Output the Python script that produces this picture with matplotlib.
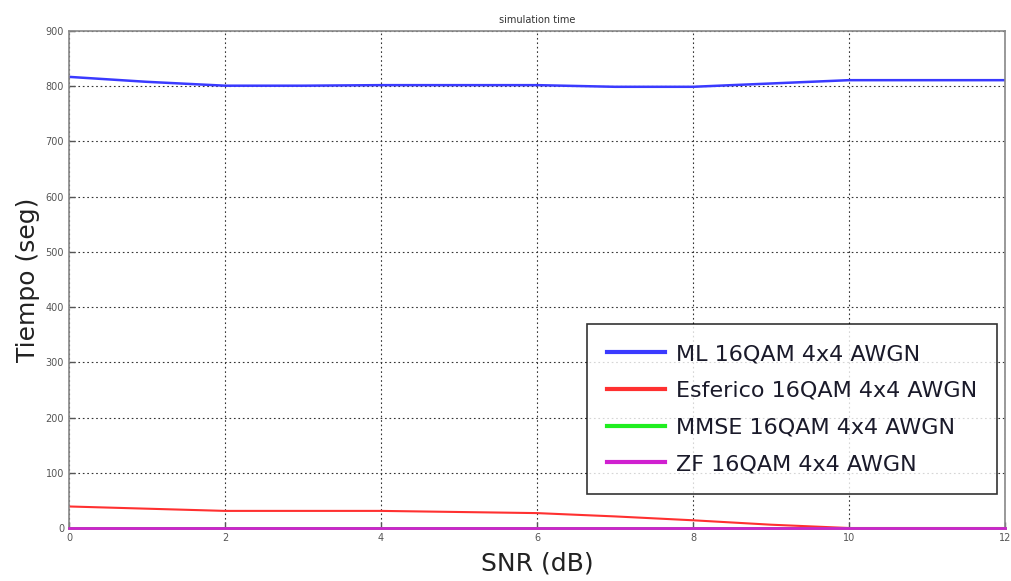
import matplotlib
matplotlib.use("Agg")
import matplotlib.pyplot as plt

snr_db = [0, 1, 2, 3, 4, 5, 6, 7, 8, 9, 10, 11, 12]
t_ml = [817, 808, 801, 801, 802, 802, 802, 799, 799, 805, 811, 811, 811]
t_esferico = [39, 35, 31, 31, 31, 29, 27, 21, 14, 6, 0, 0, 0]
t_mmse = [0.5] * 13
t_zf = [0.5] * 13

labels = ["ML 16QAM 4x4 AWGN", "Esferico 16QAM 4x4 AWGN",
          "MMSE 16QAM 4x4 AWGN", "ZF 16QAM 4x4 AWGN"]
xticks = [0, 2, 4, 6, 8, 10, 12]
yticks = [0, 100, 200, 300, 400, 500, 600, 700, 800, 900]

fig = plt.figure(figsize=(10.11, 5.81), dpi=100)
ax = fig.add_axes([0.0682, 0.0912, 0.9258, 0.8554])

ax.plot(snr_db, t_ml, color="#3a3aff", lw=1.8, label=labels[0])
ax.plot(snr_db, t_esferico, color="#ff3030", lw=1.5, label=labels[1])
ax.plot(snr_db, t_mmse, color="#20ee20", lw=2.0, label=labels[2],
        clip_on=False, zorder=4)
ax.plot(snr_db, t_zf, color="#d020d0", lw=2.0, label=labels[3],
        clip_on=False, zorder=5)

ax.set_xlim(0, 12)
ax.set_ylim(0, 900)
ax.set_xticks(xticks)
ax.set_yticks(yticks)
ax.grid(True, color="#333333", linestyle=(0, (1.5, 2.5)), lw=0.8)
for s in ax.spines.values():
    s.set_color("#888888")
    s.set_linewidth(1.2)
ax.tick_params(labelsize=7, colors="#555555", length=4, direction="in", width=1)

ax.set_title("simulation time", fontsize=7, color="#333333", pad=6)
ax.set_xlabel("SNR (dB)", fontsize=18, color="#222222", labelpad=6)
ax.set_ylabel("Tiempo (seg)", fontsize=18, color="#222222", labelpad=4)

leg = ax.legend(loc="lower right", bbox_to_anchor=(0.999, 0.055), fontsize=16,
                frameon=True, fancybox=False, edgecolor="black",
                handlelength=2.6, handletextpad=0.5, labelspacing=0.75,
                borderpad=0.9, borderaxespad=0.3)
leg.get_frame().set_linewidth(1.2)
for h in leg.get_lines():
    h.set_linewidth(3)
for t in leg.get_texts():
    t.set_color("#1a1a2a")

fig.savefig("out.png", dpi=100, facecolor="white")
